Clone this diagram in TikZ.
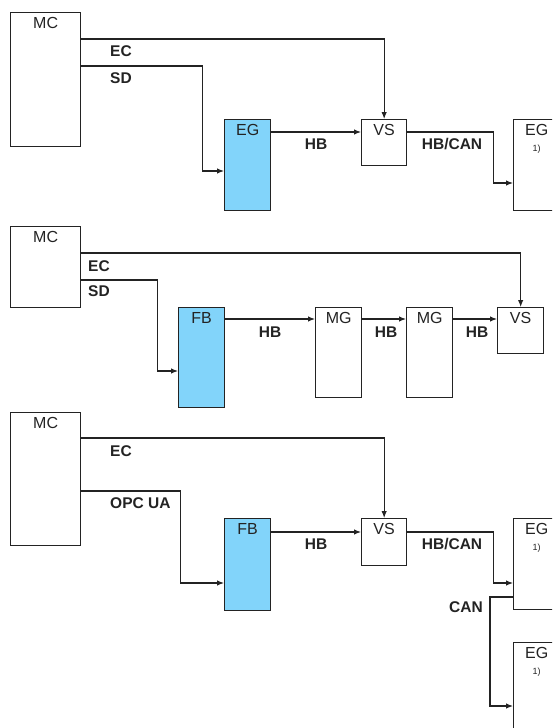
\documentclass[tikz,border=0pt]{standalone}
\usepackage{fontspec}
\setmainfont{Liberation Sans}
\usetikzlibrary{arrows.meta,calc}
\definecolor{sky}{RGB}{130,212,250}
\definecolor{ink}{RGB}{35,35,35}
\newcommand{\egnote}{EG\\[-1pt]{\fontsize{9}{10}\selectfont 1)}}
\tikzset{
  >={Latex[length=7pt,width=5.5pt]},
  unit/.style={draw=ink,line width=1.3pt,fill=#1,anchor=north west,inner sep=0pt},
  unit/.default=white,
  head/.style={anchor=north,font=\fontsize{16}{17}\selectfont,inner sep=0pt,
    yshift=-5pt,align=center,text=ink},
  bus/.style={->,draw=ink,line width=1.1pt},
  tag/.style={anchor=west,font=\fontsize{15.5}{16}\selectfont\bfseries,inner sep=0pt,
    text height=11pt,text depth=0pt,text=ink},
}
\begin{document}
\begin{tikzpicture}[x=1pt,y=-1pt]
  \useasboundingbox (0,0) rectangle (552,728);
  \clip (0,0) rectangle (552,728);
  % first line-up
  \node[unit,minimum width=70,minimum height=134,label={[head]north:MC}] (mc1) at (10,12) {};
  \node[unit=sky,minimum width=46,minimum height=91,label={[head]north:EG}] (eg1) at (224,119) {};
  \node[unit,minimum width=45,minimum height=46,label={[head]north:VS}] (vs1) at (361,119) {};
  \node[unit,minimum width=46,minimum height=91,label={[head]north:\egnote}] (egr1) at (513,119) {};
  \draw[bus] ($(mc1.north east)+(0,27)$) -| (vs1.north);
  \draw[bus] ($(mc1.north east)+(0,54)$) -- ++(121,0) |- ($(eg1.north west)+(0,52)$);
  \draw[bus] ($(eg1.north east)+(0,13)$) -- ($(vs1.north west)+(0,13)$);
  \draw[bus] ($(vs1.north east)+(0,13)$) -- ++(86,0) |- ($(egr1.north west)+(0,64)$);
  \node[tag] (lec1) at (110,51) {EC};
  \node[tag] (lsd1) at (110,78) {SD};
  \node[tag,anchor=center] (lhb1) at (316,144) {HB};
  \node[tag,anchor=center] (lhc1) at (452,144) {HB/CAN};
  % second line-up
  \node[unit,minimum width=70,minimum height=81,label={[head]north:MC}] (mc2) at (10,226) {};
  \node[unit=sky,minimum width=46,minimum height=100,label={[head]north:FB}] (fb2) at (178,307) {};
  \node[unit,minimum width=46,minimum height=90,label={[head]north:MG}] (mga2) at (315,307) {};
  \node[unit,minimum width=46,minimum height=90,label={[head]north:MG}] (mgb2) at (406,307) {};
  \node[unit,minimum width=46,minimum height=46,label={[head]north:VS}] (vs2) at (497,307) {};
  \draw[bus] ($(mc2.north east)+(0,27)$) -| (vs2.north);
  \draw[bus] ($(mc2.north east)+(0,54)$) -- ++(76,0) |- ($(fb2.north west)+(0,64)$);
  \foreach \a/\b in {fb2/mga2,mga2/mgb2,mgb2/vs2}
    \draw[bus] ($(\a.north east)+(0,12)$) -- ($(\b.north west)+(0,12)$);
  \node[tag] (lec2) at (88,266) {EC};
  \node[tag] (lsd2) at (88,291) {SD};
  \foreach \x/\n in {270/a,386/b,477/c}
    \node[tag,anchor=center] (lhb2\n) at (\x,332) {HB};
  % third line-up
  \node[unit,minimum width=70,minimum height=133,label={[head]north:MC}] (mc3) at (10,412) {};
  \node[unit=sky,minimum width=46,minimum height=92,label={[head]north:FB}] (fb3) at (224,518) {};
  \node[unit,minimum width=45,minimum height=47,label={[head]north:VS}] (vs3) at (361,518) {};
  \node[unit,minimum width=46,minimum height=91,label={[head]north:\egnote}] (ega3) at (513,518) {};
  \node[unit,minimum width=46,minimum height=91,label={[head]north:\egnote}] (egb3) at (513,642) {};
  \draw[bus] ($(mc3.north east)+(0,26)$) -| (vs3.north);
  \draw[bus] ($(mc3.north east)+(0,79)$) -- ++(99,0) |- ($(fb3.north west)+(0,65)$);
  \draw[bus] ($(fb3.north east)+(0,14)$) -- ($(vs3.north west)+(0,14)$);
  \draw[bus] ($(vs3.north east)+(0,14)$) -- ++(86,0) |- ($(ega3.north west)+(0,65)$);
  \draw[bus] ($(ega3.north west)+(0,79)$) -- ++(-23,0) |- ($(egb3.north west)+(0,64)$);
  \node[tag] (lec3) at (110,451) {EC};
  \node[tag] (lopc3) at (110,503) {OPC UA};
  \node[tag,anchor=center] (lhb3) at (316,544) {HB};
  \node[tag,anchor=center] (lhc3) at (452,544) {HB/CAN};
  \node[tag,anchor=center] (lcan3) at (466,607) {CAN};
\end{tikzpicture}
\end{document}
